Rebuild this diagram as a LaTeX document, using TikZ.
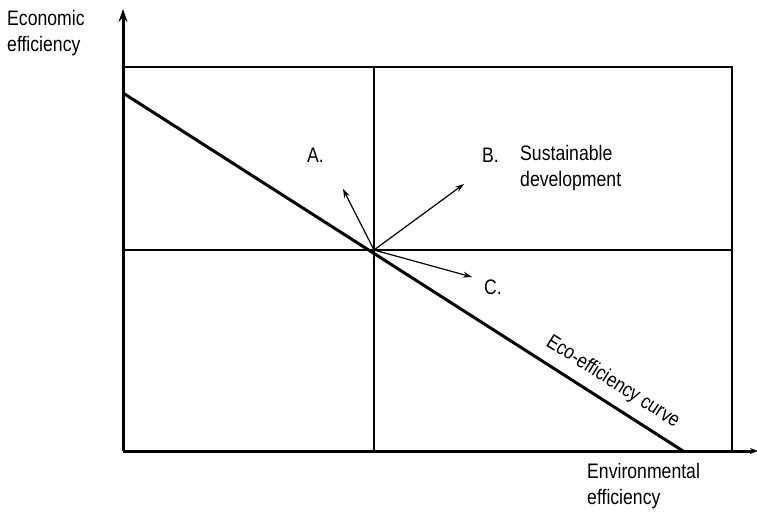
\documentclass[tikz,border=0pt]{standalone}
\usepackage{fontspec}
\setmainfont{Liberation Sans}[FakeStretch=0.84]
\usetikzlibrary{arrows.meta}
\begin{document}
\begin{tikzpicture}[x=1pt,y=-1pt,
  axis/.style={line width=3pt},
  frame/.style={line width=1.4pt},
  curveline/.style={line width=3pt},
  vec/.style={line width=1.2pt,-{Stealth[length=9pt,width=6pt]}},
  lbl/.style={font=\fontsize{21}{25}\selectfont,inner sep=0pt},
  lblblock/.style={font=\fontsize{21}{26}\selectfont,inner sep=0pt,align=left}]
\useasboundingbox (0,0) rectangle (757,513);
% coordinates
\coordinate (O) at (123,451);
\coordinate (ytop) at (123,9);
\coordinate (xend) at (758,451);
\coordinate (TL) at (123,67);
\coordinate (TR) at (732,67);
\coordinate (BR) at (732,451);
\coordinate (MT) at (374,67);
\coordinate (MB) at (374,451);
\coordinate (ML) at (123,250);
\coordinate (MR) at (732,250);
\coordinate (C) at (374,250);
\coordinate (cs) at (123,93);
\coordinate (ce) at (683,451);
\coordinate (tA) at (343,189);
\coordinate (tB) at (464,184);
\coordinate (tC) at (472,277);
% frame
\draw[frame] (TL) -- (TR) -- (BR);
\draw[frame] (MT) -- (MB);
\draw[frame] (ML) -- (MR);
% axes
\draw[axis,-{Stealth[length=13pt,width=9pt]}] (O) -- (ytop);
\draw[axis,-{Stealth[length=8pt,width=6pt]}] (O) -- (xend);
% curve
\draw[curveline] (cs) -- (ce)
  node[pos=0.855,sloped,anchor=base,yshift=15pt,inner sep=0pt,font=\fontsize{20.5}{22}\selectfont] (curvelabel) {Eco-efficiency curve};
% vectors
\draw[vec] (C) -- (tA);
\draw[vec] (C) -- (tB);
\draw[vec] (C) -- (tC);
% labels
\node[lbl,anchor=base west] (labA) at (307,163) {A.};
\node[lbl,anchor=base west] (labB) at (482,163) {B.};
\node[lblblock,anchor=north west] (labBtxt) at (520,145) {Sustainable\\development};
\node[lbl,anchor=base west] (labC) at (484,294) {C.};
\node[lblblock,anchor=north west] (ylab) at (7,10) {Economic\\efficiency};
\node[lblblock,anchor=north west] (xlab) at (587,463) {Environmental\\efficiency};
\end{tikzpicture}
\end{document}
